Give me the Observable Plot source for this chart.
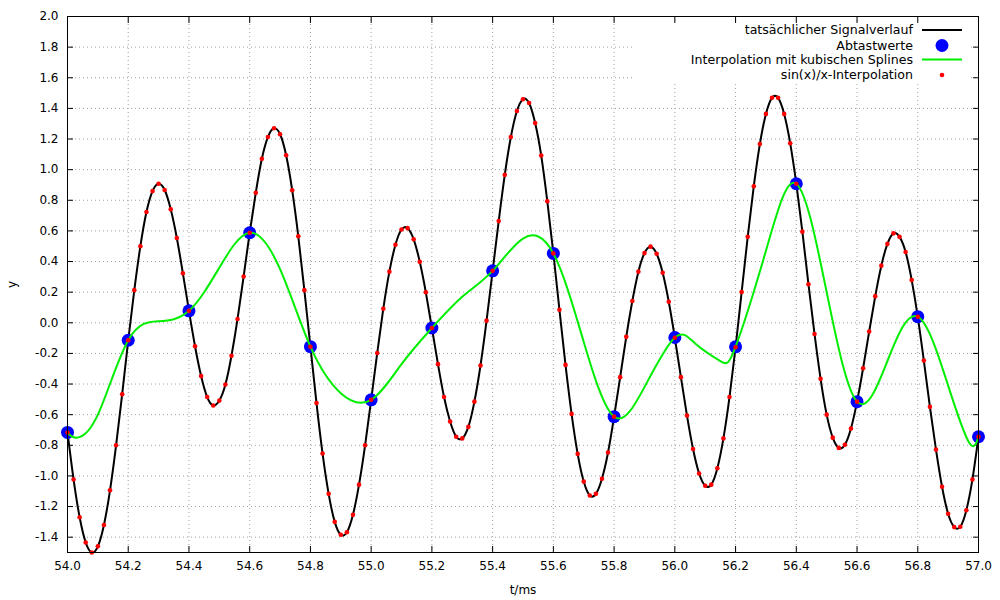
<!DOCTYPE html>
<html>
<head>
<meta charset="utf-8">
<script src="https://cdn.jsdelivr.net/npm/d3@7"></script>
<script src="https://cdn.jsdelivr.net/npm/@observablehq/plot@0.6"></script>
<style>
  body { margin: 0; background: white; }
  #wrap { position: relative; width: 1000px; height: 600px; font-family: "DejaVu Sans", sans-serif; }
  #legend { position: absolute; left: 632px; top: 23px; width: 338px; height: 61px; background: white; }
</style>
</head>
<body>
<div id="wrap"></div>
<script>
// x tick labels and y tick labels
const xTicks = [54.0, 54.2, 54.4, 54.6, 54.8, 55.0, 55.2, 55.4, 55.6, 55.8, 56.0, 56.2, 56.4, 56.6, 56.8, 57.0];
const yTicks = [-1.4, -1.2, -1.0, -0.8, -0.6, -0.4, -0.2, 0.0, 0.2, 0.4, 0.6, 0.8, 1.0, 1.2, 1.4, 1.6, 1.8, 2.0];

// sin(x)/x interpolation points (lie on the actual signal)
const sincT = [
  54.00,54.02,54.04,54.06,54.08,54.10,54.12,54.14,54.16,54.18,
  54.20,54.22,54.24,54.26,54.28,54.30,54.32,54.34,54.36,54.38,
  54.40,54.42,54.44,54.46,54.48,54.50,54.52,54.54,54.56,54.58,
  54.60,54.62,54.64,54.66,54.68,54.70,54.72,54.74,54.76,54.78,
  54.80,54.82,54.84,54.86,54.88,54.90,54.92,54.94,54.96,54.98,
  55.00,55.02,55.04,55.06,55.08,55.10,55.12,55.14,55.16,55.18,
  55.20,55.22,55.24,55.26,55.28,55.30,55.32,55.34,55.36,55.38,
  55.40,55.42,55.44,55.46,55.48,55.50,55.52,55.54,55.56,55.58,
  55.60,55.62,55.64,55.66,55.68,55.70,55.72,55.74,55.76,55.78,
  55.80,55.82,55.84,55.86,55.88,55.90,55.92,55.94,55.96,55.98,
  56.00,56.02,56.04,56.06,56.08,56.10,56.12,56.14,56.16,56.18,
  56.20,56.22,56.24,56.26,56.28,56.30,56.32,56.34,56.36,56.38,
  56.40,56.42,56.44,56.46,56.48,56.50,56.52,56.54,56.56,56.58,
  56.60,56.62,56.64,56.66,56.68,56.70,56.72,56.74,56.76,56.78,
  56.80,56.82,56.84,56.86,56.88,56.90,56.92,56.94,56.96,56.98,
  57.00
];
const sincY = [
  -0.716,-1.023,-1.27,-1.435,-1.50,-1.46,-1.32,-1.094,-0.80,-0.467,
  -0.114,0.213,0.50,0.723,0.86,0.908,0.867,0.741,0.554,0.323,
  0.078,-0.153,-0.348,-0.485,-0.54,-0.508,-0.403,-0.215,0.025,0.302,
  0.588,0.849,1.071,1.213,1.27,1.231,1.094,0.865,0.565,0.213,
  -0.156,-0.524,-0.854,-1.117,-1.30,-1.384,-1.368,-1.254,-1.057,-0.80,
  -0.503,-0.197,0.092,0.334,0.51,0.609,0.618,0.545,0.398,0.199,
  -0.034,-0.27,-0.485,-0.645,-0.744,-0.755,-0.68,-0.515,-0.279,0.014,
  0.339,0.664,0.966,1.213,1.383,1.46,1.435,1.304,1.092,0.794,
  0.453,0.085,-0.275,-0.595,-0.856,-1.037,-1.128,-1.117,-1.018,-0.847,
  -0.613,-0.355,-0.092,0.142,0.334,0.455,0.497,0.451,0.327,0.137,
  -0.098,-0.355,-0.606,-0.824,-0.984,-1.064,-1.057,-0.95,-0.755,-0.485,
  -0.16,0.201,0.561,0.892,1.167,1.364,1.469,1.469,1.364,1.172,
  0.908,0.595,0.252,-0.073,-0.366,-0.60,-0.75,-0.817,-0.796,-0.691,
  -0.515,-0.297,-0.057,0.174,0.373,0.515,0.584,0.561,0.462,0.279,
  0.039,-0.247,-0.549,-0.828,-1.071,-1.247,-1.334,-1.332,-1.224,-1.023,
  -0.744
];

// Sample values (Abtastwerte)
const sampleT = [54.0, 54.2, 54.4, 54.6, 54.8, 55.0, 55.2, 55.4, 55.6, 55.8, 56.0, 56.2, 56.4, 56.6, 56.8, 57.0];
const sampleY = [-0.716, -0.114, 0.078, 0.588, -0.156, -0.503, -0.034, 0.339, 0.453, -0.613, -0.096, -0.157, 0.908, -0.515, 0.040, -0.744];

// Cubic spline interpolation (samples + midpoints + end dips)
const splineT = [54.0, 54.03, 54.1, 54.2, 54.3, 54.4, 54.5, 54.6, 54.7, 54.8, 54.9, 55.0, 55.1, 55.2, 55.3, 55.4, 55.5, 55.6, 55.7, 55.8,
  55.9, 56.0, 56.07, 56.15, 56.2, 56.3, 56.4, 56.5, 56.6, 56.7, 56.8, 56.9, 56.97, 57.0];
const splineY = [-0.716, -0.75, -0.60, -0.114, 0.010, 0.078, 0.36, 0.588, 0.35, -0.156, -0.46, -0.503, -0.27, -0.034, 0.17, 0.339, 0.55, 0.453, -0.125, -0.613,
  -0.42, -0.096, -0.14, -0.25, -0.157, 0.47, 0.908, 0.20, -0.515, -0.25, 0.040, -0.41, -0.785, -0.744];

const legendLabels = ["tatsächlicher Signalverlauf", "Abtastwerte", "Interpolation mit kubischen Splines", "sin(x)/x-Interpolation"];
const colors = {signal: "#000000", samples: "#0000ff", spline: "#00ee00", sinc: "#ff0000"};

const sinc = sincT.map((t, i) => ({t, y: sincY[i]}));
const samples = sampleT.map((t, i) => ({t, y: sampleY[i]}));
const spline = splineT.map((t, i) => ({t, y: splineY[i]}));

const fmt = d => d.toFixed(1);
const gridStyle = {stroke: "#a0a0a0", strokeOpacity: 1, strokeDasharray: "1,3"};

const chart = Plot.plot({
  width: 1000,
  height: 600,
  marginLeft: 67,
  marginRight: 22,
  marginTop: 16,
  marginBottom: 48,
  style: {fontFamily: "DejaVu Sans, sans-serif", fontSize: "12px", background: "white", color: "black"},
  x: {domain: [54, 57]},
  y: {domain: [-1.5, 2.0]},
  marks: [
    Plot.gridX(xTicks, gridStyle),
    Plot.gridY(yTicks, gridStyle),
    Plot.axisX(xTicks, {tickSize: 0, tickPadding: 9, tickFormat: fmt, label: "t/ms", labelAnchor: "center", labelOffset: 41, labelArrow: "none", fontSize: 12}),
    Plot.axisX(xTicks, {tickSize: -6, tickFormat: () => "", label: null}),
    Plot.axisX(xTicks, {anchor: "top", tickSize: -6, tickFormat: () => "", label: null}),
    Plot.axisY(yTicks, {tickSize: 0, tickPadding: 9, tickFormat: fmt, label: "y", labelAnchor: "center", labelOffset: 60, labelArrow: "none", fontSize: 12}),
    Plot.axisY(yTicks, {tickSize: -6, tickFormat: () => "", label: null}),
    Plot.axisY(yTicks, {anchor: "right", tickSize: -6, tickFormat: () => "", label: null}),
    Plot.line(sinc, {x: "t", y: "y", stroke: colors.signal, strokeWidth: 2, curve: "natural", clip: true}),
    Plot.dot(samples, {x: "t", y: "y", r: 6.5, fill: colors.samples}),
    Plot.line(spline, {x: "t", y: "y", stroke: colors.spline, strokeWidth: 2, curve: "natural", clip: true}),
    Plot.dot(sinc, {x: "t", y: "y", r: 2.3, fill: colors.sinc}),
    Plot.frame({stroke: "black", strokeWidth: 1})
  ]
});

const wrap = document.getElementById("wrap");
wrap.appendChild(chart);

// Legend (inside the plot, top right, with opaque white box)
const leg = document.createElement("div");
leg.id = "legend";
wrap.appendChild(leg);
const svg = d3.select(leg).append("svg").attr("width", 338).attr("height", 61)
  .style("font-family", "DejaVu Sans, sans-serif").style("font-size", "12.6px");
const rowY = [7, 22.5, 36.5, 52];
legendLabels.forEach((lab, i) => {
  svg.append("text").attr("x", 281).attr("y", rowY[i]).attr("dy", "0.35em")
    .attr("text-anchor", "end").attr("fill", "black").text(lab);
});
svg.append("line").attr("x1", 290).attr("x2", 330).attr("y1", rowY[0]).attr("y2", rowY[0]).attr("stroke", colors.signal).attr("stroke-width", 2);
svg.append("circle").attr("cx", 310).attr("cy", rowY[1]).attr("r", 6.5).attr("fill", colors.samples);
svg.append("line").attr("x1", 290).attr("x2", 330).attr("y1", rowY[2]).attr("y2", rowY[2]).attr("stroke", colors.spline).attr("stroke-width", 2);
svg.append("circle").attr("cx", 310).attr("cy", rowY[3]).attr("r", 2.3).attr("fill", colors.sinc);
</script>
</body>
</html>
